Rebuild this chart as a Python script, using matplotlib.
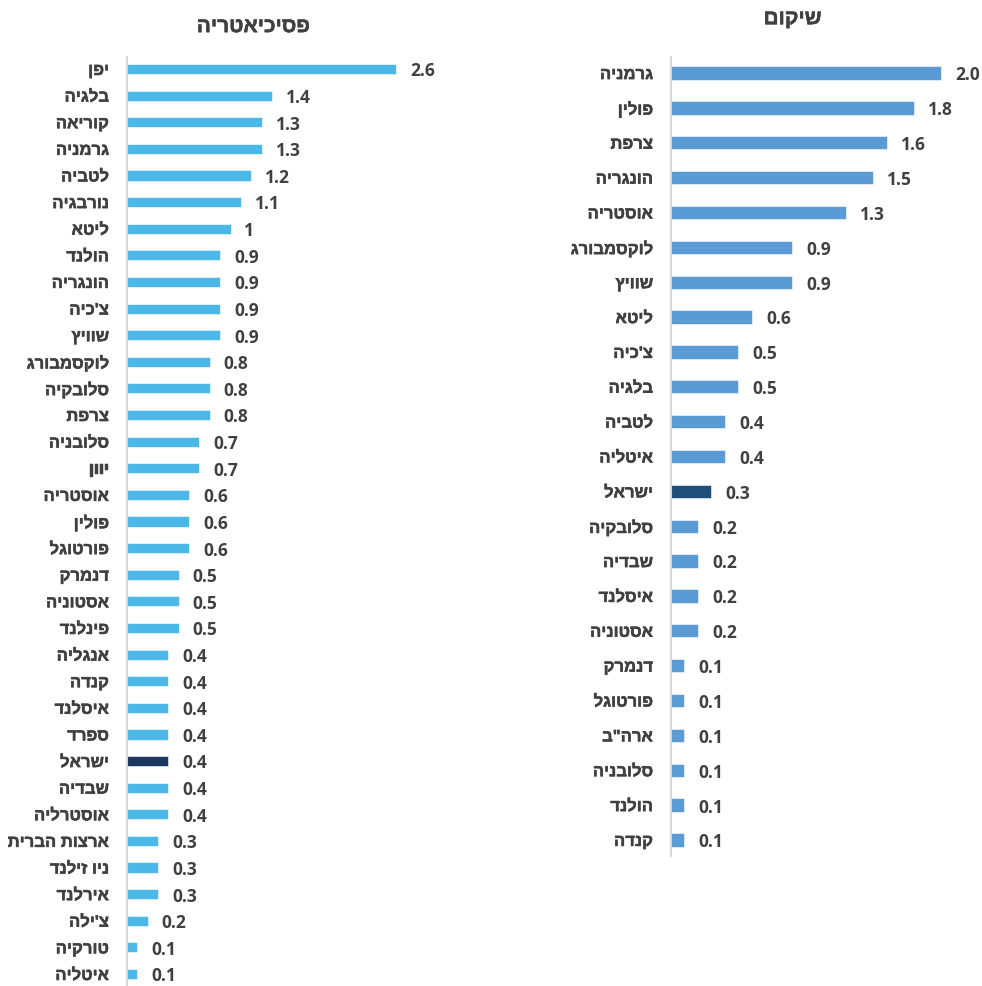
import matplotlib
matplotlib.use('Agg')
import matplotlib.pyplot as plt
import matplotlib.patheffects as pe

plt.rcParams['font.family'] = ['Open Sans', 'Liberation Sans', 'DejaVu Sans']
HEB_FONT = ['Liberation Sans', 'DejaVu Sans']
# hebrew bold glyphs come out light, thicken them a bit
THICK = [pe.withStroke(linewidth=0.35, foreground='#404040')]

# Psychiatry (left panel)
psy_countries = ['יפן', 'בלגיה', 'קוריאה', 'גרמניה', 'לטביה', 'נורבגיה', 'ליטא',
                 'הולנד', 'הונגריה', "צ'כיה", 'שוויץ', 'לוקסמבורג', 'סלובקיה', 'צרפת',
                 'סלובניה', 'יוון', 'אוסטריה', 'פולין', 'פורטוגל', 'דנמרק', 'אסטוניה',
                 'פינלנד', 'אנגליה', 'קנדה', 'איסלנד', 'ספרד', 'ישראל', 'שבדיה',
                 'אוסטרליה', 'ארצות הברית', 'ניו זילנד', 'אירלנד', "צ'ילה", 'טורקיה',
                 'איטליה']
psy_values = [2.6, 1.4, 1.3, 1.3, 1.2, 1.1, 1.0, 0.9, 0.9, 0.9, 0.9, 0.8, 0.8, 0.8,
              0.7, 0.7, 0.6, 0.6, 0.6, 0.5, 0.5, 0.5, 0.4, 0.4, 0.4, 0.4, 0.4, 0.4,
              0.4, 0.3, 0.3, 0.3, 0.2, 0.1, 0.1]

# Rehabilitation (right panel)
reh_countries = ['גרמניה', 'פולין', 'צרפת', 'הונגריה', 'אוסטריה', 'לוקסמבורג', 'שוויץ',
                 'ליטא', "צ'כיה", 'בלגיה', 'לטביה', 'איטליה', 'ישראל', 'סלובקיה',
                 'שבדיה', 'איסלנד', 'אסטוניה', 'דנמרק', 'פורטוגל', 'ארה"ב', 'סלובניה',
                 'הולנד', 'קנדה']
reh_values = [2.0, 1.8, 1.6, 1.5, 1.3, 0.9, 0.9, 0.6, 0.5, 0.5, 0.4, 0.4, 0.3, 0.2,
              0.2, 0.2, 0.2, 0.1, 0.1, 0.1, 0.1, 0.1, 0.1]

psy_title = 'פסיכיאטריה'
reh_title = 'שיקום'
highlight = 'ישראל'


def heb(s):
    # matplotlib has no bidi support: put hebrew text in visual order
    return s[::-1]


def draw(ax, names, vals, color, hl_color, xmax, fmt, lab_size, val_size, pad_units):
    n = len(names)
    ys = list(range(n))
    colors = [hl_color if c == highlight else color for c in names]
    ax.barh(ys, vals, height=0.38, color=colors, edgecolor='white', linewidth=0.4)
    for y, v in zip(ys, vals):
        ax.annotate(fmt(v), (v, y), xytext=(10, -1), textcoords='offset points',
                    ha='left', va='center', fontsize=val_size, fontweight='bold',
                    color='#404040')
    ax.set_yticks(ys)
    labels = ax.set_yticklabels([heb(c) for c in names], fontsize=lab_size,
                                fontweight='bold', color='#404040', family=HEB_FONT)
    for t in labels:
        t.set_path_effects(THICK)
    ax.tick_params(axis='y', length=0, pad=13)
    ax.set_xticks([])
    ax.set_xlim(0, xmax)
    ax.set_ylim(n - 1 + pad_units, -pad_units)
    for s in ['top', 'right', 'bottom']:
        ax.spines[s].set_visible(False)
    ax.spines['left'].set_color('#D9D9D9')
    ax.spines['left'].set_linewidth(1.5)


fig = plt.figure(figsize=(9.82, 9.87), dpi=100)

ax1 = fig.add_axes([0.1293, 0.0, 0.2953, 0.9412])
draw(ax1, psy_countries, psy_values, '#4BB8E8', '#1B365F', 2.8,
     lambda v: f'{v:g}', 12, 12.5, 0.45)
fig.text(0.258, 0.972, heb(psy_title), ha='center', va='center', fontsize=15,
         fontweight='bold', color='#404040', family=HEB_FONT, path_effects=THICK)

ax2 = fig.add_axes([0.6833, 0.1317, 0.3024, 0.8095])
draw(ax2, reh_countries, reh_values, '#5B9BD5', '#1F4E79', 2.2,
     lambda v: f'{v:.1f}', 12, 12.5, 0.46)
fig.text(0.807, 0.980, heb(reh_title), ha='center', va='center', fontsize=15,
         fontweight='bold', color='#404040', family=HEB_FONT, path_effects=THICK)

plt.savefig('out.png', dpi=100)
